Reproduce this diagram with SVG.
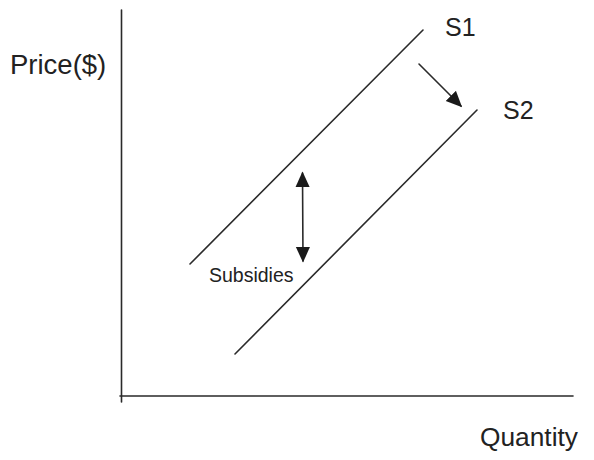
<svg xmlns="http://www.w3.org/2000/svg" width="594" height="460" viewBox="0 0 594 460">
<style>
.ln{stroke:#2a2a2a;stroke-width:1.6;fill:none;stroke-linecap:round}
.t{font-family:"Liberation Sans",Arial,sans-serif;fill:#222}
</style>
<defs>
<marker id="ah" viewBox="0 0 10 10" refX="9" refY="5" markerWidth="16" markerHeight="16" markerUnits="userSpaceOnUse" orient="auto-start-reverse">
<path d="M0,0.5 L10,5 L0,9.5 z" fill="#1a1a1a"/>
</marker>
</defs>
<rect width="594" height="460" fill="#fff"/>
<g id="axes">
<line class="ln" x1="121.5" y1="10" x2="121.5" y2="402"/>
<line class="ln" x1="120" y1="396" x2="573" y2="396"/>
<text class="t" x="480" y="446" font-size="26.3">Quantity</text>
<text class="t" x="10" y="74" font-size="27.5">Price($)</text>
</g>
<g id="s1">
<line class="ln" x1="190" y1="264" x2="423" y2="30"/>
<text class="t" x="445" y="36" font-size="25">S1</text>
</g>
<g id="s2">
<line class="ln" x1="235" y1="354" x2="477" y2="110"/>
<text class="t" x="503" y="119" font-size="25">S2</text>
</g>
<g id="subsidies">
<text class="t" x="209" y="282" font-size="19.5">Subsidies</text>
</g>
<g id="connectors">
<line class="ln" x1="419" y1="64" x2="461" y2="106" marker-end="url(#ah)"/>
<line class="ln" x1="302.5" y1="173" x2="303" y2="261" marker-start="url(#ah)" marker-end="url(#ah)"/>
</g>
</svg>
